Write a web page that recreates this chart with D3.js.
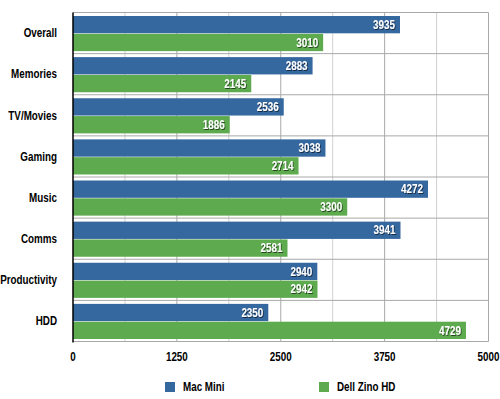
<!DOCTYPE html>
<html>
<head>
<meta charset="utf-8">
<script src="https://cdn.jsdelivr.net/npm/d3@7"></script>
<style>
  body { margin: 0; background: #fff; }
  text { font-family: "Liberation Sans", Arial, sans-serif; font-weight: bold; font-size: 12px; }
</style>
</head>
<body>
<div id="chart"></div>
<script>
const categories = ['Overall', 'Memories', 'TV/Movies', 'Gaming', 'Music', 'Comms', 'Productivity', 'HDD']
const seriesNames = ['Mac Mini', 'Dell Zino HD']
const macMini = [3935, 2883, 2536, 3038, 4272, 3941, 2940, 2350]
const dellZino = [3010, 2145, 1886, 2714, 3300, 2581, 2942, 4729]
const xTicks = [0, 1250, 2500, 3750, 5000]
const colors = ['#3668a0', '#5eab4f']

const width = 500
const height = 399
const plot = { left: 73, right: 488.5, top: 12.5, bottom: 341.5 }
const squeeze = 0.82 // condensed look of the original font

const svg = d3.select('#chart').append('svg')
  .attr('width', width)
  .attr('height', height)

const defs = svg.append('defs')
defs.append('filter').attr('id', 'shadow')
  .append('feDropShadow')
  .attr('dx', 1).attr('dy', 1).attr('stdDeviation', 0.6)
  .attr('flood-color', '#000').attr('flood-opacity', 0.6)

const place = (x, y) => `translate(${x},${y}) scale(${squeeze},1)`

const xScale = d3.scaleLinear().domain([0, 5000]).range([plot.left, plot.right])
const yScale = d3.scaleBand().domain(categories).range([plot.top, plot.bottom])

// grid: minor then major vertical lines
const minor = d3.range(625, 5000, 1250)
svg.selectAll('line.minor').data(minor).join('line')
  .attr('x1', (d) => xScale(d)).attr('x2', (d) => xScale(d))
  .attr('y1', plot.top).attr('y2', plot.bottom)
  .attr('stroke', '#d0d0d0').attr('stroke-width', 1)

svg.selectAll('line.major').data(xTicks.slice(1)).join('line')
  .attr('x1', (d) => xScale(d)).attr('x2', (d) => xScale(d))
  .attr('y1', plot.top).attr('y2', plot.bottom)
  .attr('stroke', '#a8a8a8').attr('stroke-width', 1)

// horizontal band separators
const bounds = categories.map((c) => yScale(c)).concat([plot.bottom])
svg.selectAll('line.hsep').data(bounds).join('line')
  .attr('x1', plot.left).attr('x2', plot.right)
  .attr('y1', (d) => d).attr('y2', (d) => d)
  .attr('stroke', '#a8a8a8').attr('stroke-width', 1)

const inner = d3.scaleBand().domain(seriesNames)
  .range([3.5, yScale.bandwidth() - 2.5]).paddingInner(0.03)

const series = [macMini, dellZino]
series.forEach((values, si) => {
  const g = svg.append('g')
  const rows = categories.map((c, i) => ({ cat: c, v: values[i] }))
  g.selectAll('rect').data(rows).join('rect')
    .attr('x', plot.left)
    .attr('y', (d) => yScale(d.cat) + inner(seriesNames[si]))
    .attr('width', (d) => xScale(d.v) - plot.left)
    .attr('height', inner.bandwidth())
    .attr('fill', colors[si])

  g.selectAll('text').data(rows).join('text')
    .attr('transform', (d) => place(xScale(d.v) - 5,
      yScale(d.cat) + inner(seriesNames[si]) + inner.bandwidth() / 2))
    .attr('dy', '0.35em')
    .attr('text-anchor', 'end')
    .attr('fill', '#fff')
    .attr('filter', 'url(#shadow)')
    .text((d) => d.v)
})

// left axis line
svg.append('line')
  .attr('x1', plot.left).attr('x2', plot.left)
  .attr('y1', plot.top).attr('y2', plot.bottom + 1)
  .attr('stroke', '#000').attr('stroke-width', 1.5)

// category labels
svg.selectAll('text.cat').data(categories).join('text')
  .attr('class', 'cat')
  .attr('transform', (d) => place(57, yScale(d) + yScale.bandwidth() / 2))
  .attr('dy', '0.35em')
  .attr('text-anchor', 'end')
  .attr('fill', '#000')
  .text((d) => d)

// x tick labels
svg.selectAll('text.xt').data(xTicks).join('text')
  .attr('class', 'xt')
  .attr('transform', (d) => place(xScale(d), 357))
  .attr('dy', '0.35em')
  .attr('text-anchor', 'middle')
  .attr('fill', '#000')
  .text((d) => d)

// legend
const legendX = [165, 319]
seriesNames.forEach((name, i) => {
  svg.append('rect')
    .attr('x', legendX[i]).attr('y', 382)
    .attr('width', 10).attr('height', 10)
    .attr('fill', colors[i])
  svg.append('text')
    .attr('transform', place(legendX[i] + 18, 387))
    .attr('dy', '0.35em')
    .attr('fill', '#000')
    .text(name)
})
</script>
</body>
</html>
